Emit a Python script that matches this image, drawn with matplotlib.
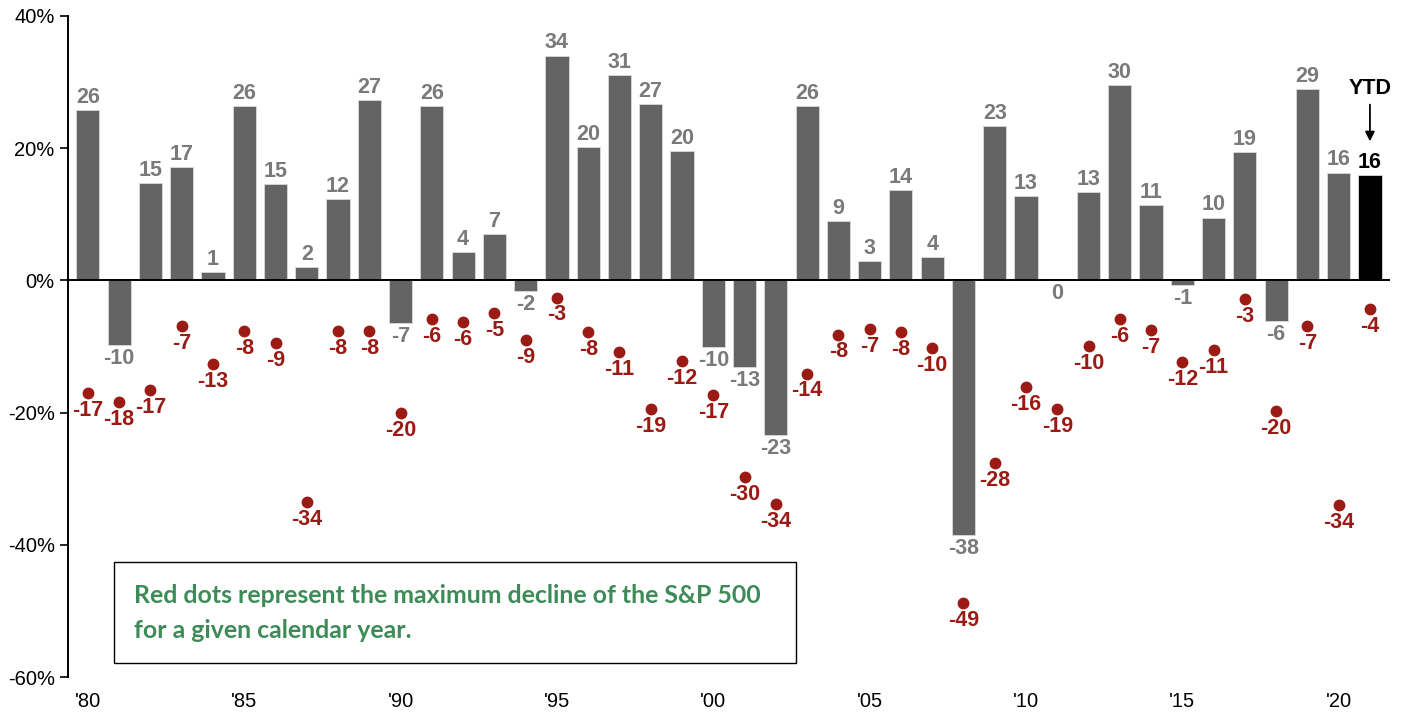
"""S&P 500 annual returns vs. maximum intra-year decline, 1980-2021 YTD."""
import matplotlib
matplotlib.use("Agg")
import matplotlib.pyplot as plt
from matplotlib.patches import Rectangle

years = list(range(1980, 2022))
annual_return = [25.8, -9.8, 14.7, 17.2, 1.3, 26.3, 14.6, 2.0, 12.3, 27.2,
                 -6.5, 26.3, 4.3, 7.0, -1.6, 34.0, 20.2, 31.0, 26.7, 19.5,
                 -10.1, -13.1, -23.4, 26.4, 9.0, 2.9, 13.6, 3.5, -38.5, 23.4,
                 12.7, 0.0, 13.4, 29.6, 11.4, -0.7, 9.5, 19.4, -6.2, 28.9,
                 16.3, 15.9]
return_labels = [26, -10, 15, 17, 1, 26, 15, 2, 12, 27,
                 -7, 26, 4, 7, -2, 34, 20, 31, 27, 20,
                 -10, -13, -23, 26, 9, 3, 14, 4, -38, 23,
                 13, 0, 13, 30, 11, -1, 10, 19, -6, 29,
                 16, 16]
max_decline = [-17.1, -18.4, -16.6, -6.9, -12.7, -7.7, -9.5, -33.6, -7.7, -7.7,
               -20.0, -5.8, -6.3, -5.0, -9.0, -2.6, -7.8, -10.9, -19.4, -12.2,
               -17.3, -29.7, -33.8, -14.1, -8.2, -7.3, -7.8, -10.2, -48.8, -27.7,
               -16.1, -19.4, -10.0, -5.8, -7.5, -12.4, -10.6, -2.9, -19.8, -6.9,
               -34.0, -4.3]
decline_labels = [-17, -18, -17, -7, -13, -8, -9, -34, -8, -8,
                  -20, -6, -6, -5, -9, -3, -8, -11, -19, -12,
                  -17, -30, -34, -14, -8, -7, -8, -10, -49, -28,
                  -16, -19, -10, -6, -7, -12, -11, -3, -20, -7,
                  -34, -4]
xtick_years = list(range(1980, 2021, 5))
xtick_labels = ["'80", "'85", "'90", "'95", "'00", "'05", "'10", "'15", "'20"]
ytick_values = [-60, -40, -20, 0, 20, 40]
note = "Red dots represent the maximum decline of the S&P 500\nfor a given calendar year."

BAR = "#646464"
LABEL_GREY = "#7a7a7a"
RED = "#9b1a14"
GREEN = "#3d8c58"
LABEL_SIZE = 15.5

plt.rcParams["font.family"] = ["Liberation Sans", "DejaVu Sans"]

fig = plt.figure(figsize=(14.14, 7.21), dpi=100)
ax = fig.add_axes([0.048, 0.061, 0.935, 0.917])

colors = [BAR] * (len(years) - 1) + ["black"]
ax.bar(years, annual_return, width=0.74, color=colors, edgecolor="#d9d9d9",
       linewidth=0.6, zorder=2)
ax.plot(years, max_decline, "o", color=RED, ms=7.5, zorder=3)

for i, (yr, v, lab) in enumerate(zip(years, annual_return, return_labels)):
    col = "black" if i == len(years) - 1 else LABEL_GREY
    if v > 0:
        ax.annotate(str(lab), (yr, v), xytext=(0, 1.5), textcoords="offset points",
                    ha="center", va="bottom", fontsize=LABEL_SIZE, fontweight="bold", color=col)
    else:
        ax.annotate(str(lab), (yr, v), xytext=(0, -2), textcoords="offset points",
                    ha="center", va="top", fontsize=LABEL_SIZE, fontweight="bold", color=col)

for yr, v, lab in zip(years, max_decline, decline_labels):
    ax.annotate(str(lab), (yr, v), xytext=(0, -5), textcoords="offset points",
                ha="center", va="top", fontsize=LABEL_SIZE, fontweight="bold", color=RED)

# YTD callout
ax.annotate("", xy=(years[-1], 20.6), xytext=(years[-1], 27.0),
            arrowprops=dict(arrowstyle="-|>", color="black", lw=1.3, mutation_scale=14))
ax.text(years[-1], 29.0, "YTD", ha="center", va="center", fontsize=LABEL_SIZE,
        fontweight="bold", color="black")

ax.axhline(0, color="black", lw=1.4, zorder=4)

ax.set_xlim(1979.36, 2021.64)
ax.set_ylim(-60, 40)
ax.set_yticks(ytick_values)
ax.set_yticklabels([f"{v}%" for v in ytick_values])
ax.set_xticks(xtick_years)
ax.set_xticklabels(xtick_labels)
ax.tick_params(axis="x", length=0, pad=11, labelsize=14.5)
ax.tick_params(axis="y", length=6, width=1.2, labelsize=14.5, direction="out")
for side in ("top", "right", "bottom"):
    ax.spines[side].set_visible(False)
ax.spines["left"].set_linewidth(1.4)

# note box
ax.add_patch(Rectangle((0.0348, 0.021), 0.516, 0.153, transform=ax.transAxes,
                       fill=False, edgecolor="black", lw=1.0, zorder=5))
ax.text(0.0499, 0.0965, note, transform=ax.transAxes, ha="left", va="center",
        fontsize=17.9, fontweight="bold", color=GREEN, linespacing=1.65,
        family=["Lato", "DejaVu Sans"])

fig.savefig("out.png", dpi=100)
